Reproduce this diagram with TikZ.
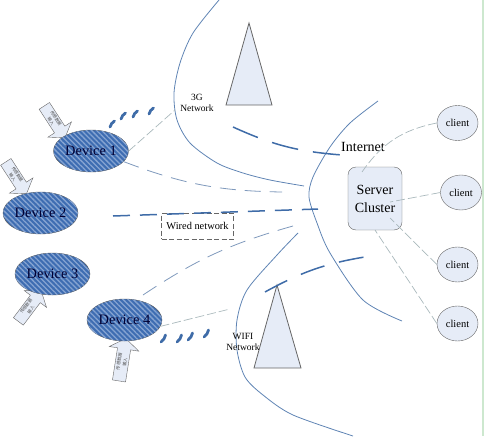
\documentclass[tikz,border=0pt]{standalone}
\usepackage{fontspec}
\setmainfont{Liberation Serif}
\newfontfamily\cjkfont{Noto Sans CJK SC}
\usepackage{xcolor}
\usetikzlibrary{arrows.meta,positioning,shapes.geometric,shapes.arrows,patterns.meta}
\definecolor{netblue}{HTML}{5F84B4}
\definecolor{linkblue}{HTML}{3F6CA8}
\definecolor{thinblue}{HTML}{7F99BC}
\definecolor{palegrey}{HTML}{A9B8BC}
\definecolor{boxfill}{HTML}{E6ECF7}
\definecolor{devfill}{HTML}{3E6DB2}
\definecolor{devstripe}{HTML}{86A4D2}
\definecolor{edgegreen}{HTML}{CDE8CF}
\begin{document}
\begin{tikzpicture}[x=1pt,y=-1pt,
  device/.style={ellipse, draw=gray!70!black, fill=devfill, postaction={pattern={Lines[angle=-45,distance=3.6pt,line width=1.3pt]}, pattern color=devstripe}, minimum width=75pt, minimum height=42pt, inner sep=0pt, font=\fontsize{14.4}{16}\selectfont, text=black!80!blue},
  client/.style={ellipse, draw=gray!80!black, fill=boxfill, minimum width=41pt, minimum height=35pt, inner sep=0pt, font=\fontsize{10.5}{12}\selectfont},
  server/.style={draw=gray!80!black, fill=boxfill, rounded corners=8pt, minimum width=54pt, minimum height=63pt, inner sep=0pt, align=center, font=\fontsize{14}{18}\selectfont},
  tower/.style={draw=gray!80!black, fill=boxfill, line width=0.8pt},
  inarrow/.style={single arrow, draw=gray!80!black, fill=boxfill, minimum height=38pt, minimum width=28pt, single arrow head extend=6.5pt, single arrow tip angle=110, inner sep=0pt, align=center, font=\cjkfont\fontsize{4.2}{6}\selectfont, text=black!70},
  netlabel/.style={align=center, inner sep=0pt, font=\fontsize{9.5}{11}\selectfont},
  net/.style={netblue, line width=0.8pt},
  thicklink/.style={linkblue, line width=1.5pt},
  thinlink/.style={thinblue, line width=0.8pt, dash pattern=on 16pt off 9pt},
  palelink/.style={palegrey, line width=0.7pt, dash pattern=on 9pt off 3pt},
  wave/.style={linkblue, line width=2.8pt, line cap=round}]
\useasboundingbox (0,0) rectangle (484,436);
\fill[edgegreen] (482,0) rectangle (484,436);
% network borders
\draw[net] plot[smooth] coordinates {(219,0) (193,33) (180,63) (174,93) (177,120) (190,143) (217,163) (243,173) (270,180) (304,186)};
\draw[net] plot[smooth] coordinates {(378,101) (350,123) (330,147) (313,177) (309,197) (317,223) (330,253) (363,300) (402,321)};
\draw[net] plot[smooth] coordinates {(298,233) (277,255) (247,290) (237,320) (237,350) (245,377) (263,395) (293,415) (353,436)};
% towers
\draw[tower] (249,23) -- (272,105) -- (226,105) -- cycle;
\draw[tower] (277,285) -- (301,368) -- (254,368) -- cycle;
% devices
\node[inarrow, rotate=-57] (in1) at (53.5,120) {传感数据\\输入};
\node[inarrow, rotate=-57] (in2) at (15,176) {传感数据\\输入};
\node[inarrow, rotate=53] (in3) at (28.5,308) {传感数据\\输入};
\node[inarrow, rotate=81, minimum height=43pt, minimum width=30pt] (in4) at (122,362) {传感数据\\输入};
\node[device] (dev1) at (91,151) {Device 1};
\node[device] (dev2) at (40.5,213) {Device 2};
\node[device] (dev3) at (52.5,274) {Device 3};
\node[device] (dev4) at (124.5,320) {Device 4};
% radio waves
\foreach \xa/\ya in {110/127,121/119,133/117,149/114}
  \draw[wave] (\xa,\ya) to[bend left=20] ++(4.5,-6);
\foreach \xa/\ya in {161/342,177/342,188/340,204/337}
  \draw[wave] (\xa,\ya) to[bend right=20] ++(4.5,-7);
% server and clients
\node[server] (srv) at (375,198.5) {Server\\Cluster};
\node[client] (c1) at (457.5,123) {client};
\node[client] (c2) at (461,192.5) {client};
\node[client] (c3) at (457.5,264.5) {client};
\node[client] (c4) at (457.5,323.5) {client};
% labels
\node[netlabel] (lab3g) at (197,103) {3G\\Network};
\node[netlabel] (labwifi) at (243,342) {WIFI\\Network};
\node[font=\fontsize{14}{16}\selectfont, inner sep=0pt] (labnet) at (363,147) {Internet};
\node[draw=gray!80!black, dash pattern=on 5pt off 2.5pt, line width=0.8pt, minimum width=72pt, minimum height=26pt, inner sep=0pt, font=\fontsize{10.4}{12}\selectfont] (wired) at (197.5,226) {Wired network};
% free ends
\coordinate (g1) at (342,155);
\coordinate (g0) at (233,127);
\coordinate (d2start) at (113,216);
\coordinate (d2end) at (318,209);
\coordinate (d1end) at (282,192);
\coordinate (d4start) at (143,295);
\coordinate (d4end) at (293,226);
\coordinate (w0) at (265,292);
\coordinate (w1) at (371,256);
\coordinate (p3g) at (175,110);
\coordinate (pwifi) at (230,309);
\coordinate (s1) at (362,172);
\coordinate (s2) at (390,202);
\coordinate (s3) at (390,218);
\coordinate (s4) at (375,230);
% links
\draw[thicklink, dash pattern=on 27pt off 15pt] (g0) to[bend right=10] (g1);
\draw[thicklink, dash pattern=on 17pt off 10pt] (d2start) -- (d2end);
\draw[thicklink, dash pattern=on 25pt off 15pt] (w0) to[bend left=10] (w1);
\draw[thinlink] (dev1.-18) to[bend right=10] (d1end);
\draw[thinlink] (d4start) to[bend left=9] (d4end);
\draw[palelink] (dev1.east) -- (p3g);
\draw[palelink] (dev4.-10) -- (pwifi);
\draw[palelink] (c1.west) to[bend right=22] (s1);
\draw[palelink] (c2.west) -- (s2);
\draw[palelink] (c3.west) -- (s3);
\draw[palelink] (c4.west) -- (s4);
\end{tikzpicture}
\end{document}
